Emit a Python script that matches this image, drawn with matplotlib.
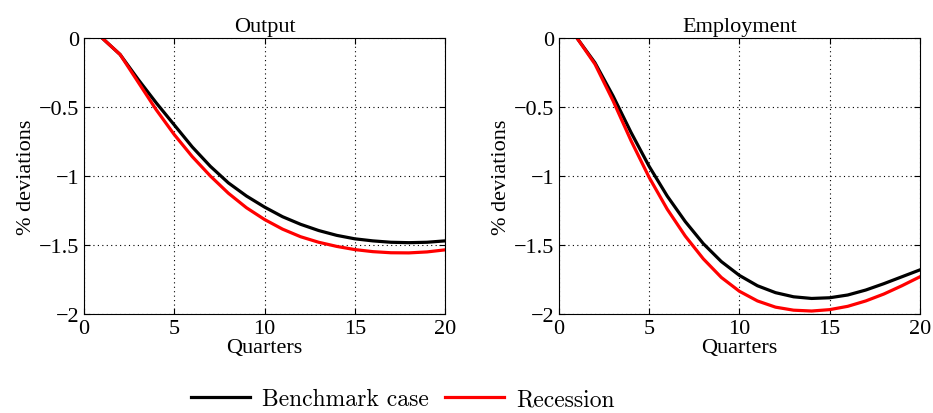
import numpy as np
import matplotlib.pyplot as plt

quarters = np.arange(1, 21)

output_bench = [0, -0.12, -0.30, -0.47, -0.63, -0.79, -0.93, -1.05, -1.145, -1.225,
                -1.295, -1.35, -1.395, -1.43, -1.455, -1.47, -1.48, -1.483, -1.48, -1.47]
output_rec = [0, -0.12, -0.32, -0.52, -0.70, -0.86, -1.00, -1.125, -1.23, -1.315,
              -1.385, -1.44, -1.48, -1.51, -1.533, -1.548, -1.556, -1.557, -1.55, -1.535]

emp_bench = [0, -0.18, -0.42, -0.685, -0.93, -1.145, -1.33, -1.49, -1.62, -1.72,
             -1.795, -1.845, -1.875, -1.887, -1.882, -1.862, -1.826, -1.78, -1.73, -1.68]
emp_rec = [0, -0.19, -0.455, -0.745, -1.01, -1.24, -1.435, -1.60, -1.735, -1.835,
           -1.905, -1.95, -1.972, -1.978, -1.968, -1.944, -1.905, -1.855, -1.795, -1.73]

titles = ['Output', 'Employment']
xticks = [0, 5, 10, 15, 20]
yticks = [0, -0.5, -1, -1.5, -2]
ytick_labels = ['0', '\u22120.5', '\u22121', '\u22121.5', '\u22122']

plt.rcParams['font.family'] = 'Liberation Serif'

fig = plt.figure(figsize=(9.33, 4.14), dpi=100)
ax1 = fig.add_axes([0.090, 0.239, 0.387, 0.667])
ax2 = fig.add_axes([0.599, 0.239, 0.387, 0.667])

for ax, title, bench, rec in [(ax1, titles[0], output_bench, output_rec),
                              (ax2, titles[1], emp_bench, emp_rec)]:
    l1, = ax.plot(quarters, bench, color='black', lw=2.3, label='Benchmark case')
    l2, = ax.plot(quarters, rec, color='red', lw=2.3, label='Recession')
    ax.set_xlim(0, 20)
    ax.set_ylim(-2, 0)
    ax.set_xticks(xticks)
    ax.set_yticks(yticks)
    ax.set_yticklabels(ytick_labels)
    ax.tick_params(direction='in', top=True, right=True, labelsize=16, length=4)
    ax.grid(True, linestyle=(0, (1, 3)), color='black', lw=0.8)
    ax.set_title(title, fontsize=16, pad=5)
    ax.set_xlabel('Quarters', fontsize=16, labelpad=0)
    ax.set_ylabel('% deviations', fontsize=16, labelpad=2)

fig.legend([l1, l2], ['Benchmark case', 'Recession'], loc='lower center',
           bbox_to_anchor=(0.432, -0.045), ncol=2, frameon=False,
           handlelength=2.5, columnspacing=0.7, handletextpad=0.5,
           prop={'family': 'cmr10', 'size': 17})

fig.savefig('out.png', dpi=100)
